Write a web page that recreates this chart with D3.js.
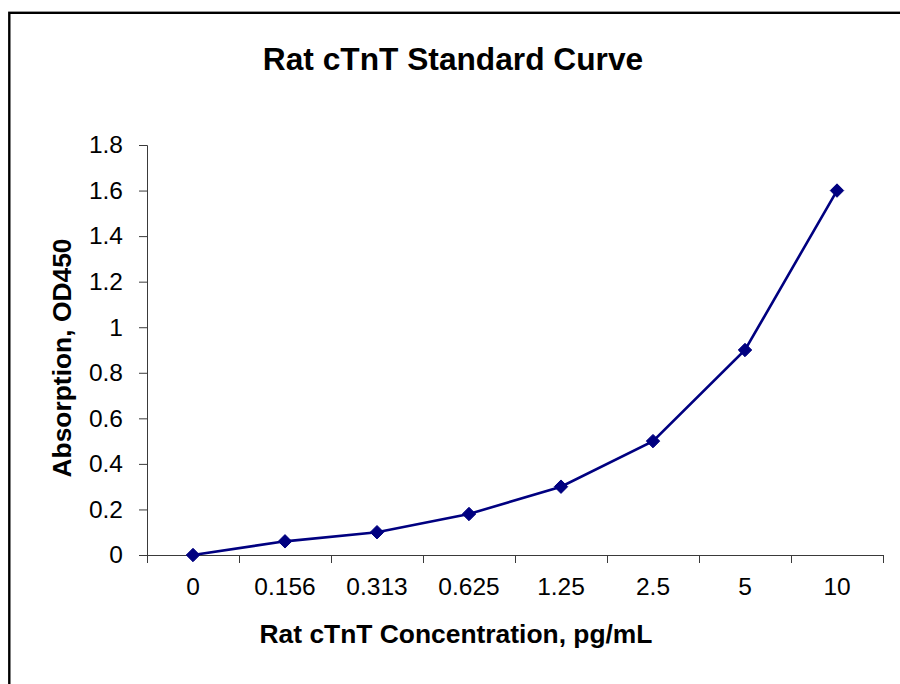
<!DOCTYPE html>
<html>
<head>
<meta charset="utf-8">
<script src="https://cdn.jsdelivr.net/npm/d3@7/dist/d3.min.js"></script>
<style>
  html, body { margin: 0; padding: 0; background: #fff; }
  svg { display: block; }
  text { font-family: "Liberation Sans", Arial, sans-serif; }
</style>
</head>
<body>
<script>
// ---- data ----
const categories = ["0", "0.156", "0.313", "0.625", "1.25", "2.5", "5", "10"];
const absorbance = [0, 0.06, 0.10, 0.18, 0.30, 0.50, 0.90, 1.60];
const yTickValues = [0, 0.2, 0.4, 0.6, 0.8, 1.0, 1.2, 1.4, 1.6, 1.8];
const yTickLabels = ["0", "0.2", "0.4", "0.6", "0.8", "1", "1.2", "1.4", "1.6", "1.8"];
const chartTitle = "Rat cTnT Standard Curve";
const xTitle = "Rat cTnT Concentration, pg/mL";
const yTitle = "Absorption, OD450";

const W = 900, H = 684;
const plotLeft = 147, plotRight = 883, plotTop = 145, plotBottom = 555;

const svg = d3.select("body").append("svg").attr("width", W).attr("height", H);

// outer chart border (extends beyond the picture on the right and bottom)
svg.append("rect")
  .attr("x", 9.3).attr("y", 12.8)
  .attr("width", 1000).attr("height", 1000)
  .attr("fill", "none").attr("stroke", "#000").attr("stroke-width", 2.4);

const x = d3.scaleBand().domain(categories).range([plotLeft, plotRight]).paddingInner(0).paddingOuter(0);
const xEdge = d3.scaleLinear().domain([0, categories.length]).range([plotLeft, plotRight]);
const y = d3.scaleLinear().domain([0, 1.8]).range([plotBottom, plotTop]);

const axisColor = "#3a3a3a";

// y axis
const gy = svg.append("g").attr("transform", `translate(${plotLeft},0)`)
  .call(d3.axisLeft(y).tickValues(yTickValues)
    .tickFormat((d, i) => yTickLabels[i]).tickSize(8).tickSizeOuter(8).tickPadding(16));
gy.select(".domain").attr("stroke", axisColor);
gy.selectAll(".tick line").attr("stroke", axisColor);
gy.selectAll(".tick text").attr("font-size", 24.5).attr("fill", "#000")
  .attr("font-family", "'Liberation Sans', Arial, sans-serif");

// x axis: tick marks at category boundaries
const gxTicks = svg.append("g").attr("transform", `translate(0,${plotBottom})`)
  .call(d3.axisBottom(xEdge).tickValues(d3.range(categories.length + 1))
    .tickFormat("").tickSize(8).tickSizeOuter(0));
gxTicks.select(".domain").attr("stroke", axisColor);
gxTicks.selectAll(".tick line").attr("stroke", axisColor);

// x axis labels at category centres
const gx = svg.append("g").attr("transform", `translate(0,${plotBottom})`)
  .call(d3.axisBottom(x).tickSize(0).tickPadding(22.5));
gx.select(".domain").remove();
gx.selectAll(".tick text").attr("font-size", 24.5).attr("fill", "#000")
  .attr("font-family", "'Liberation Sans', Arial, sans-serif");

// line
const line = d3.line()
  .x((d, i) => x(categories[i]) + x.bandwidth() / 2)
  .y(d => y(d));
svg.append("path").datum(absorbance)
  .attr("d", line).attr("fill", "none")
  .attr("stroke", "#000080").attr("stroke-width", 2.6);

// diamond markers
const diamond = d3.symbol().type(d3.symbolDiamond2).size(115);
svg.selectAll(".pt").data(absorbance).enter().append("path")
  .attr("class", "pt")
  .attr("d", diamond)
  .attr("transform", (d, i) => `translate(${x(categories[i]) + x.bandwidth() / 2},${y(d)})`)
  .attr("fill", "#000080").attr("stroke", "#000080").attr("stroke-width", 1);

// titles
svg.append("text").attr("x", 453).attr("y", 70)
  .attr("text-anchor", "middle").attr("font-size", 31.7).attr("font-weight", "bold")
  .text(chartTitle);

svg.append("text").attr("x", 456).attr("y", 643)
  .attr("text-anchor", "middle").attr("font-size", 26.4).attr("font-weight", "bold")
  .text(xTitle);

svg.append("text")
  .attr("transform", "translate(71,358) rotate(-90)")
  .attr("text-anchor", "middle").attr("font-size", 26.4).attr("font-weight", "bold")
  .text(yTitle);
</script>
</body>
</html>
